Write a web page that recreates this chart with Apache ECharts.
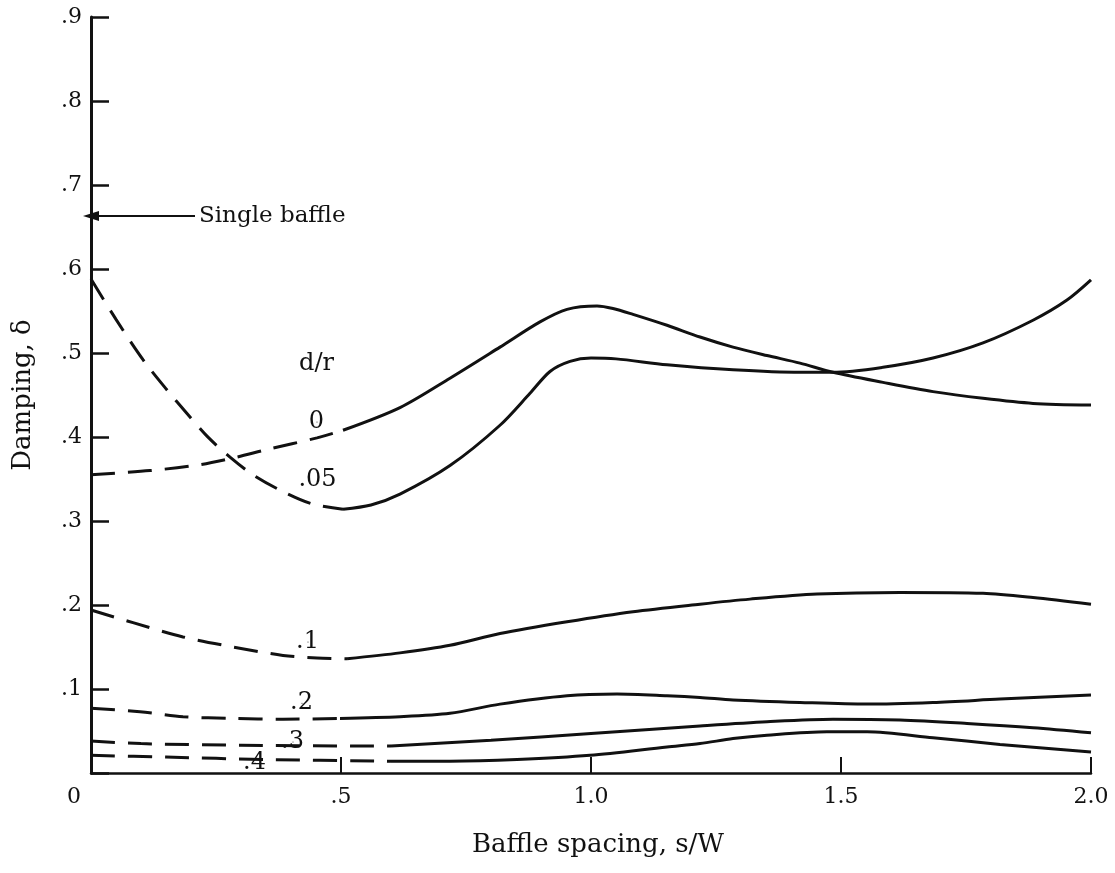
<!DOCTYPE html>
<html>
<head>
<meta charset="utf-8">
<script src="https://cdn.jsdelivr.net/npm/echarts@6/dist/echarts.min.js"></script>
<style>
  html, body { margin: 0; padding: 0; background: #fff; }
  #chart { width: 1115px; height: 873px; }
</style>
</head>
<body>
<div id="chart"></div>
<script>
// Damping vs baffle spacing for several d/r ratios.
// Each curve is split into a dashed (estimated) part and a solid (measured) part.
const xTicks = [0, 0.5, 1.0, 1.5, 2.0];
const yTicks = [0.1, 0.2, 0.3, 0.4, 0.5, 0.6, 0.7, 0.8, 0.9];

const dr0Dashed = [[0,0.355],[0.118,0.360],[0.218,0.367],[0.284,0.375],[0.352,0.385],[0.452,0.399],[0.504,0.408]];
const dr0Solid = [[0.504,0.408],[0.618,0.435],[0.718,0.470],[0.818,0.507],[0.898,0.537],[0.952,0.552],[1.012,0.556],[1.044,0.553],[1.084,0.546],[1.152,0.533],[1.218,0.519],[1.284,0.507],[1.352,0.497],[1.418,0.488],[1.484,0.477],[1.584,0.465],[1.684,0.454],[1.784,0.446],[1.884,0.440],[2.0,0.438]];

const dr05Dashed = [[0,0.588],[0.05,0.540],[0.104,0.492],[0.152,0.456],[0.192,0.428],[0.232,0.401],[0.278,0.376],[0.324,0.355],[0.384,0.335],[0.444,0.320],[0.504,0.314]];
const dr05Solid = [[0.504,0.314],[0.56,0.319],[0.618,0.332],[0.718,0.366],[0.818,0.414],[0.878,0.452],[0.918,0.478],[0.958,0.490],[1.0,0.494],[1.05,0.493],[1.152,0.486],[1.284,0.480],[1.418,0.477],[1.484,0.477],[1.584,0.483],[1.684,0.494],[1.784,0.512],[1.884,0.539],[1.952,0.563],[2.0,0.587]];

const dr1Dashed = [[0,0.194],[0.084,0.179],[0.184,0.162],[0.284,0.150],[0.384,0.140],[0.452,0.137],[0.512,0.136]];
const dr1Solid = [[0.512,0.136],[0.618,0.143],[0.718,0.152],[0.818,0.166],[0.952,0.180],[1.084,0.192],[1.218,0.201],[1.318,0.207],[1.452,0.213],[1.618,0.215],[1.784,0.214],[1.884,0.209],[2.0,0.201]];

const dr2Dashed = [[0,0.077],[0.098,0.073],[0.184,0.067],[0.284,0.065],[0.384,0.064],[0.498,0.065]];
const dr2Solid = [[0.498,0.065],[0.618,0.067],[0.718,0.071],[0.818,0.082],[0.952,0.092],[1.052,0.094],[1.152,0.092],[1.218,0.090],[1.284,0.087],[1.418,0.084],[1.552,0.082],[1.684,0.084],[1.818,0.088],[2.0,0.093]];

const dr3Dashed = [[0,0.038],[0.1,0.035],[0.3,0.033],[0.6,0.032]];
const dr3Solid = [[0.6,0.032],[0.8,0.039],[1.0,0.047],[1.218,0.056],[1.352,0.061],[1.484,0.064],[1.618,0.063],[1.752,0.059],[1.884,0.054],[2.0,0.048]];

const dr4Dashed = [[0,0.021],[0.15,0.019],[0.35,0.016],[0.6,0.014]];
const dr4Solid = [[0.6,0.014],[0.718,0.014],[0.852,0.016],[0.998,0.021],[1.152,0.031],[1.218,0.035],[1.284,0.041],[1.352,0.045],[1.472,0.049],[1.552,0.049],[1.684,0.042],[1.818,0.034],[2.0,0.025]];

// Curve captions placed next to the curves (d/r values).
const curveLabels = [
  { name: 'd/r', value: [0.452, 0.486] },
  { name: '0',   value: [0.452, 0.418] },
  { name: '.05', value: [0.454, 0.349] },
  { name: '.1',  value: [0.434, 0.156] },
  { name: '.2',  value: [0.422, 0.083] },
  { name: '.3',  value: [0.404, 0.037] },
  { name: '.4',  value: [0.328, 0.012] }
];

// Damping of a single baffle, pointed at on the vertical axis.
const singleBaffle = 0.663;
const singleBaffleTextX = 0.208;

const INK = '#111';
const FONT = 'DejaVu Serif';

function curve(name, data, dashed) {
  return {
    name: name,
    type: 'line',
    data: data,
    smooth: 0.3,
    symbol: 'none',
    silent: true,
    lineStyle: {
      color: INK,
      width: 3,
      type: dashed ? [24, 13] : 'solid',
      cap: 'butt'
    },
    z: 3
  };
}

const chart = echarts.init(document.getElementById('chart'));

chart.setOption({
  animation: false,
  backgroundColor: '#fff',
  grid: { left: 91, right: 24, top: 17, bottom: 100, containLabel: false },
  xAxis: {
    type: 'value',
    min: 0, max: 2, interval: 0.5,
    name: 'Baffle spacing, s/W',
    nameLocation: 'middle',
    nameGap: 59,
    nameTextStyle: { fontFamily: FONT, fontSize: 26, color: INK, padding: [0, 0, 0, 14] },
    axisLine: { show: true, lineStyle: { color: INK, width: 2.5 } },
    axisTick: { show: true, inside: true, length: 16, lineStyle: { color: INK, width: 2 } },
    splitLine: { show: false },
    axisLabel: {
      margin: 13,
      fontFamily: FONT, fontSize: 22, color: INK,
      formatter: function (v) {
        if (v === 0) return '{z|0}';
        if (v < 1) return '.' + Math.round(v * 10);
        return v.toFixed(1);
      },
      rich: { z: { fontFamily: FONT, fontSize: 22, color: INK, padding: [0, 34, 0, 0] } }
    }
  },
  yAxis: {
    type: 'value',
    min: 0, max: 0.9, interval: 0.1,
    name: 'Damping, δ',
    nameLocation: 'middle',
    nameRotate: 90,
    nameGap: 55,
    nameTextStyle: { fontFamily: FONT, fontSize: 26, color: INK },
    axisLine: { show: true, lineStyle: { color: INK, width: 3 } },
    axisTick: { show: true, inside: true, length: 18, lineStyle: { color: INK, width: 2.5 } },
    splitLine: { show: false },
    axisLabel: {
      margin: 9,
      fontFamily: FONT, fontSize: 22, color: INK,
      formatter: function (v) {
        if (v === 0) return '';
        return '.' + Math.round(v * 10);
      }
    }
  },
  series: [
    curve('d/r 0 (dashed)', dr0Dashed, true),
    curve('d/r 0', dr0Solid, false),
    curve('d/r .05 (dashed)', dr05Dashed, true),
    curve('d/r .05', dr05Solid, false),
    curve('d/r .1 (dashed)', dr1Dashed, true),
    curve('d/r .1', dr1Solid, false),
    curve('d/r .2 (dashed)', dr2Dashed, true),
    curve('d/r .2', dr2Solid, false),
    curve('d/r .3 (dashed)', dr3Dashed, true),
    curve('d/r .3', dr3Solid, false),
    curve('d/r .4 (dashed)', dr4Dashed, true),
    curve('d/r .4', dr4Solid, false),
    {
      name: 'Curve labels',
      type: 'scatter',
      data: curveLabels,
      symbolSize: 1,
      itemStyle: { color: INK, opacity: 1 },
      silent: true,
      label: {
        show: true,
        position: [0, 0],
        align: 'center',
        verticalAlign: 'middle',
        formatter: '{b}',
        fontFamily: FONT, fontSize: 24, color: INK,
        textBorderWidth: 0,
        opacity: 1
      },
      z: 5
    },
    {
      name: 'Single baffle',
      type: 'line',
      data: [],
      silent: true,
      markLine: {
        silent: true,
        animation: false,
        symbol: ['none', 'triangle'],
        symbolSize: [10, 16],
        lineStyle: { color: INK, width: 2, type: 'solid' },
        label: {
          show: true,
          position: 'start',
          distance: 4,
          formatter: 'Single baffle',
          fontFamily: FONT, fontSize: 23, color: INK
        },
        data: [[
          { coord: [singleBaffleTextX, singleBaffle] },
          { coord: [0, singleBaffle] }
        ]]
      }
    }
  ]
});
</script>
</body>
</html>
